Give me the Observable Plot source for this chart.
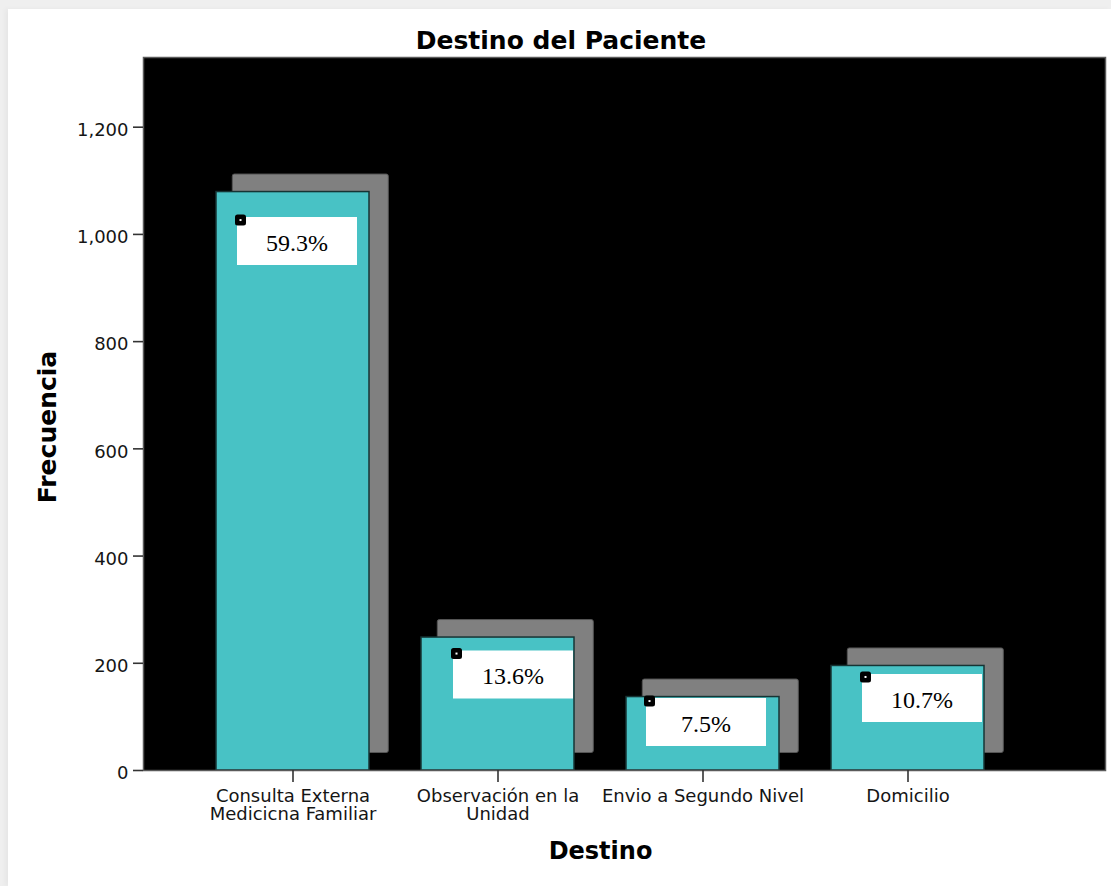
<!DOCTYPE html>
<html lang="es">
<head>
<meta charset="utf-8">
<title>Destino del Paciente</title>
<script src="https://cdn.jsdelivr.net/npm/d3@7"></script>
<script src="https://cdn.jsdelivr.net/npm/@observablehq/plot@0.6"></script>
<style>
  html, body { margin: 0; padding: 0; overflow: hidden; width: 1111px; height: 886px; background: #efefef; }
  #sheet { position: absolute; left: 8px; top: 9px; right: 0; bottom: 0; background: #fff;
           box-shadow: -3px 0 5px rgba(0,0,0,0.04); }
  #chart { position: absolute; left: 0; top: 0; width: 1111px; }
  #title { position: relative; height: 55px; font-family: "DejaVu Sans", sans-serif; font-weight: bold;
           font-size: 25px; color: #000; }
  #title span { position: absolute; left: 561px; top: 26px; line-height: 30px; transform: translateX(-50%); white-space: nowrap; }
  #chart svg { display: block; }
</style>
</head>
<body>
<div id="sheet"></div>
<div id="chart">
  <div id="title"><span>Destino del Paciente</span></div>
</div>
<script>
// Destino del paciente: frecuencia por destino y porcentaje del total
const categories = [
  "Consulta Externa Medicicna Familiar",
  "Observación en la Unidad",
  "Envio a Segundo Nivel",
  "Domicilio"
];
const tickLabels = [
  "Consulta Externa\nMedicicna Familiar",
  "Observación en la\nUnidad",
  "Envio a Segundo Nivel",
  "Domicilio"
];
const frequencies = [1079, 248, 137, 195];
const percentLabels = ["59.3%", "13.6%", "7.5%", "10.7%"];
const yTicks = [0, 200, 400, 600, 800, 1000, 1200];

const rows = categories.map((c, i) => ({destino: c, frecuencia: frequencies[i], pct: percentLabels[i]}));

// where each percentage box sits, relative to the top centre of its bar (px)
const labelNudge = [[4, 49], [15, 37], [3, 25], [14, 32]];

// white label box, 120 x 48, centred on its anchor
const boxSymbol = {draw(ctx) { ctx.rect(-60, -24, 120, 48); }};
// small rounded black pin at the upper-left corner of the box
function roundedSquare(ctx, cx, cy, s, r) {
  const x0 = cx - s / 2, y0 = cy - s / 2, x1 = cx + s / 2, y1 = cy + s / 2;
  ctx.moveTo(x0 + r, y0);
  ctx.arcTo(x1, y0, x1, y1, r);
  ctx.arcTo(x1, y1, x0, y1, r);
  ctx.arcTo(x0, y1, x0, y0, r);
  ctx.arcTo(x0, y0, x1, y0, r);
  ctx.closePath();
}
const pinSymbol = {draw(ctx) { roundedSquare(ctx, -56.5, -21, 11, 2.5); }};
const pinDotSymbol = {draw(ctx) { ctx.rect(-57.5, -22, 2, 2); }};

const labelMarks = rows.flatMap((d, i) => {
  const [dx, dy] = labelNudge[i];
  const at = {x: "destino", y: "frecuencia", dx, dy};
  return [
    Plot.dot([d], {...at, r: 5, symbol: boxSymbol, fill: "#fff", stroke: null}),
    Plot.dot([d], {...at, r: 5, symbol: pinSymbol, fill: "#000", stroke: null}),
    Plot.dot([d], {...at, r: 1, symbol: pinDotSymbol, fill: "#fff", stroke: null}),
    Plot.text([d], {x: "destino", y: "frecuencia", text: "pct", dx, dy: dy + 2,
      fontFamily: "Liberation Serif, Times New Roman, serif", fontSize: 24, fill: "#000", lineAnchor: "middle"})
  ];
});

const chart = Plot.plot({
  width: 1111,
  height: 831,
  marginTop: 2,
  marginBottom: 116,
  marginLeft: 143,
  marginRight: 6,
  style: {background: "transparent", fontFamily: "DejaVu Sans, sans-serif", fontSize: "18px", color: "#151515"},
  x: {domain: categories, range: [216, 984.3], paddingInner: 0.2522, paddingOuter: 0, label: null},
  y: {domain: [0, 1330], label: null},
  marks: [
    Plot.frame({fill: "#000", stroke: null}),
    // offset grey copy of each bar gives the raised look
    Plot.barY(rows, {x: "destino", y: "frecuencia", dx: 17.8, dy: -17.5, insetLeft: -1.5, insetRight: -1.5,
      fill: "#808080", stroke: "#555", strokeWidth: 1, rx: 2}),
    Plot.barY(rows, {x: "destino", y: "frecuencia", fill: "#48C2C5", stroke: "#163434", strokeWidth: 1.5}),
    ...labelMarks,
    Plot.frame({stroke: "#5a5a5a", strokeWidth: 1.5}),
    // y ticks and their labels
    Plot.axisY({ticks: yTicks, tickSize: 10, tickFormat: () => "", stroke: "#333", strokeWidth: 1.6, label: null}),
    Plot.axisY({ticks: yTicks, tickSize: 0, tickPadding: 15, dy: 3, tickFormat: d3.format(","), fontSize: 18, fill: "#151515", label: null}),
    // x ticks with wrapped category names
    Plot.axisX({tickSize: 12, tickPadding: 6, stroke: "#333", strokeWidth: 1.6, fontSize: 18, fill: "#151515",
      tickFormat: (d) => tickLabels[categories.indexOf(d)], lineHeight: 1.02, label: null}),
    // axis titles
    Plot.text(["Frecuencia"], {frameAnchor: "left", dx: -96, dy: 13, rotate: -90, fontWeight: "bold",
      fontSize: 25, fill: "#000", lineAnchor: "middle", textAnchor: "middle"}),
    Plot.text(["Destino"], {frameAnchor: "bottom", dx: -24, dy: 88, fontWeight: "bold",
      fontSize: 24, fill: "#000", lineAnchor: "bottom", textAnchor: "middle"})
  ]
});

document.getElementById("chart").appendChild(chart);
</script>
</body>
</html>
